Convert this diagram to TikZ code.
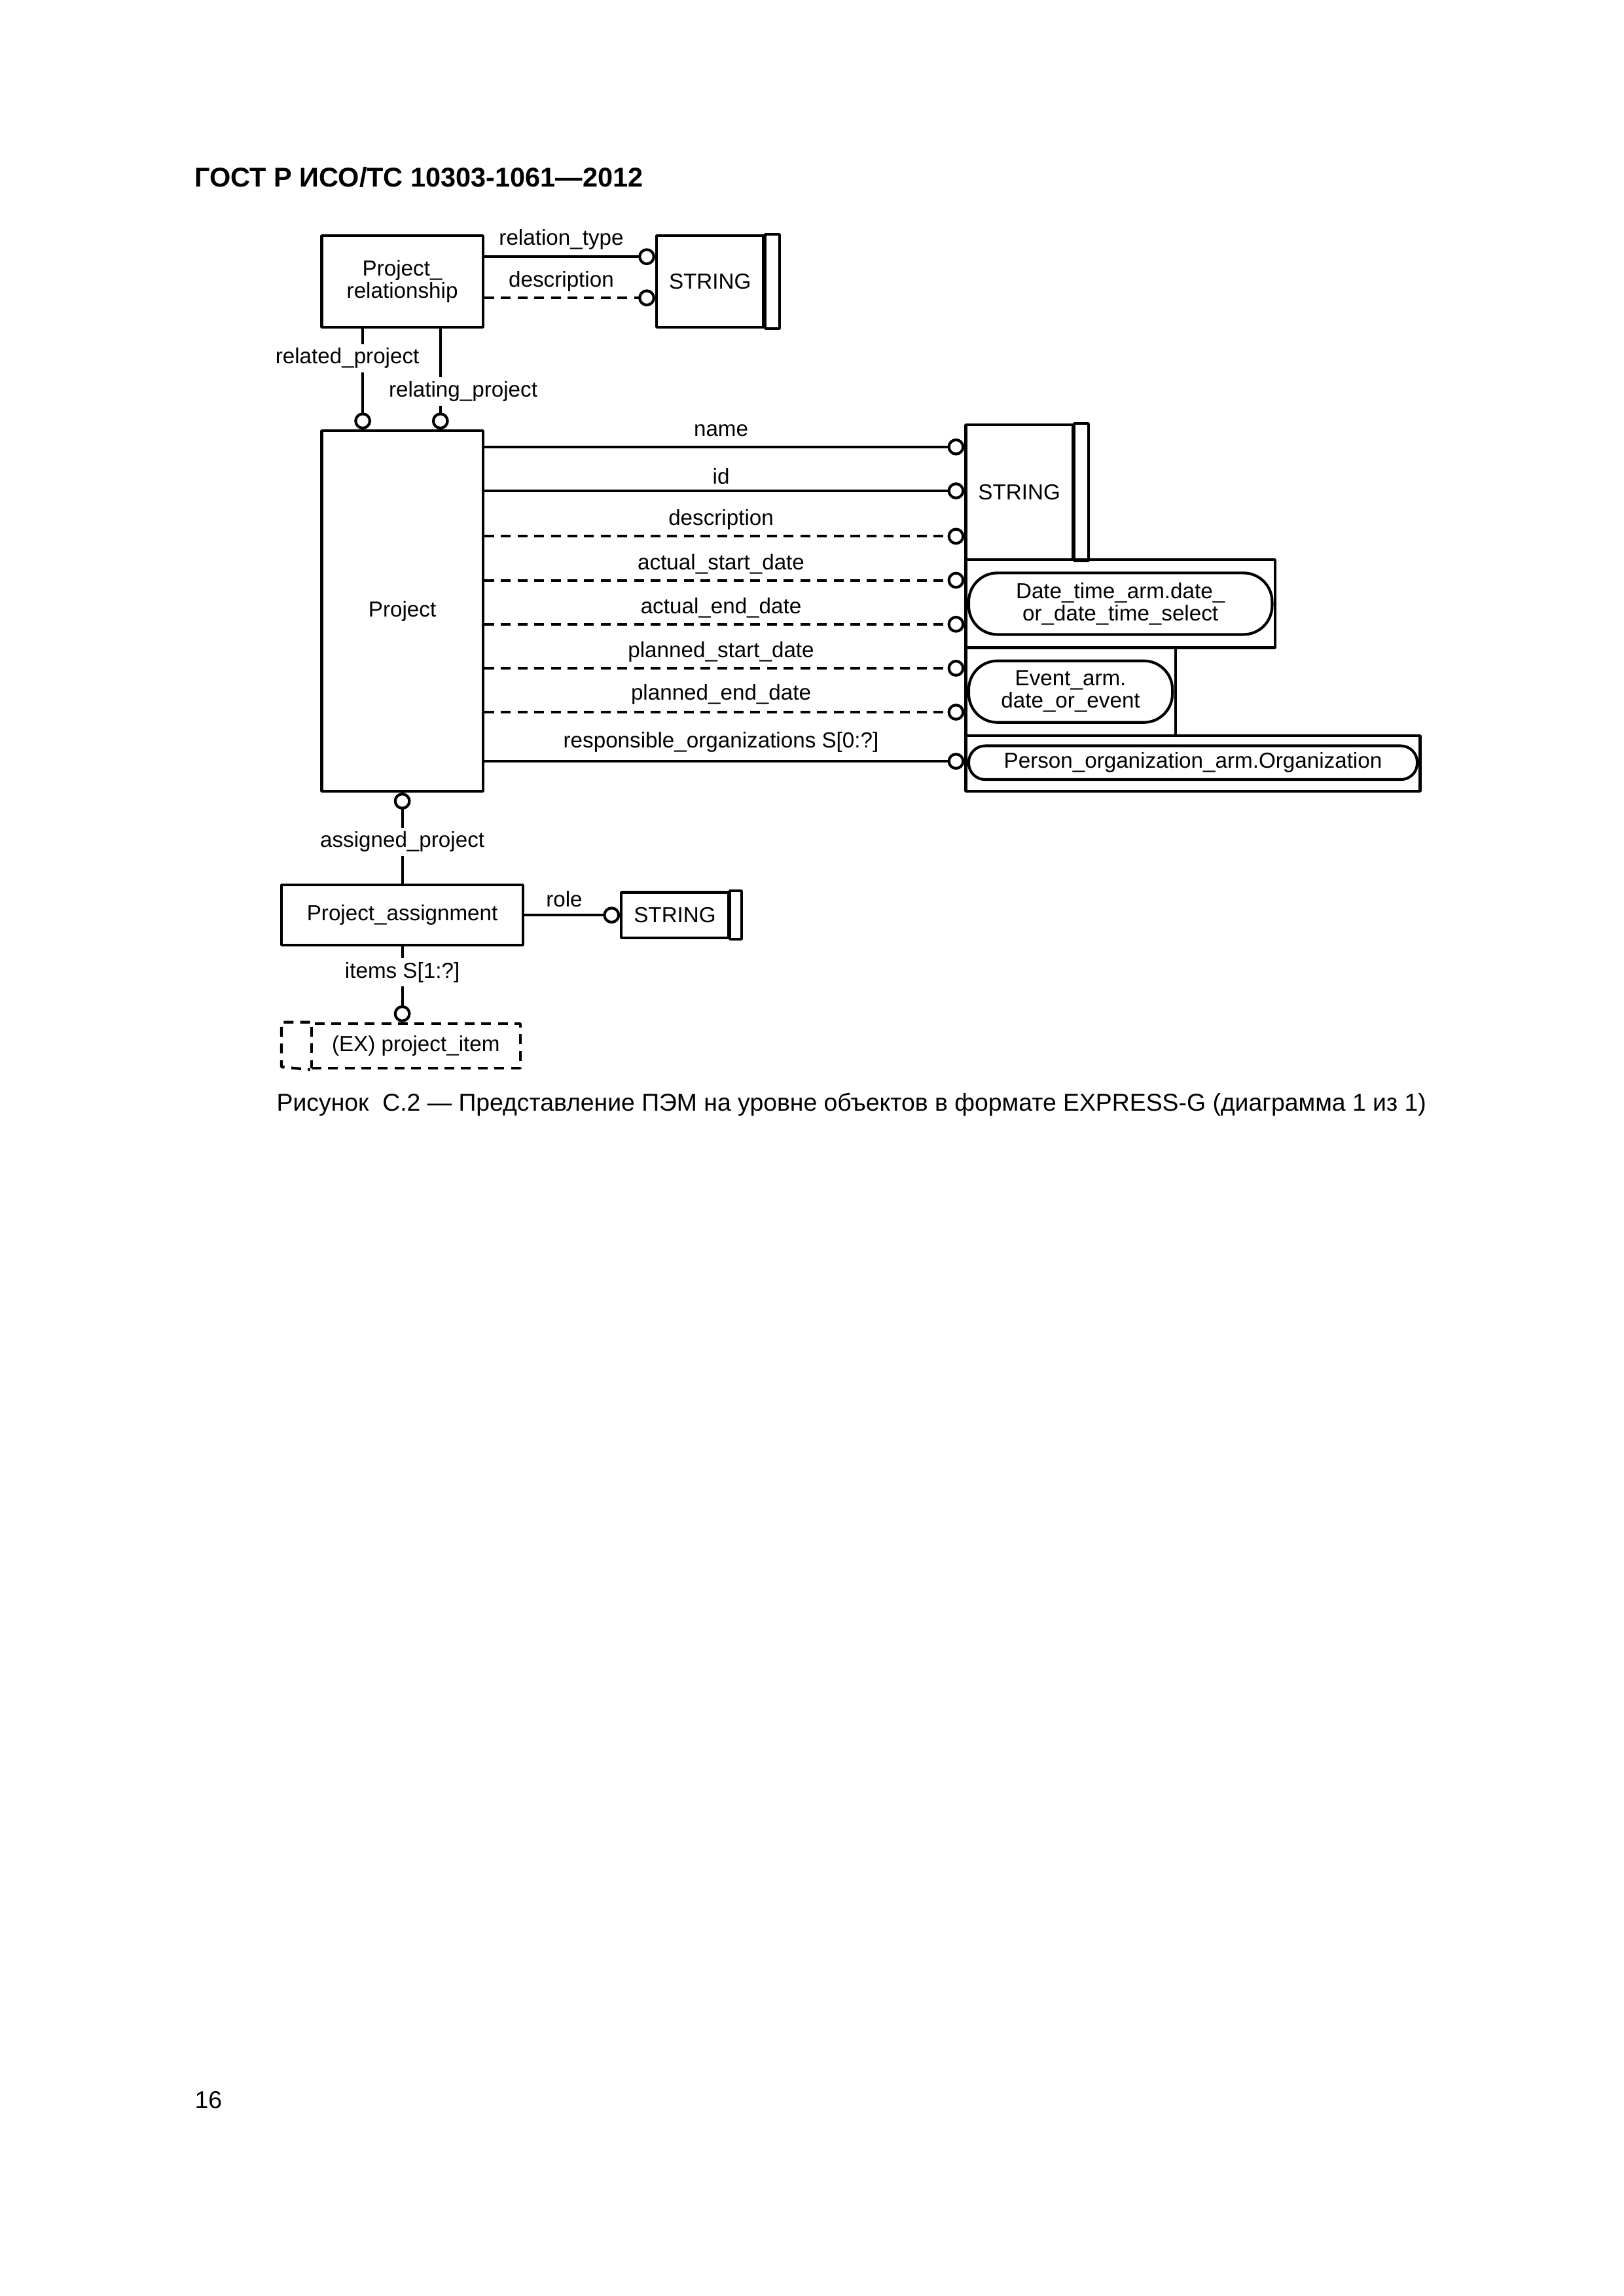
\documentclass[tikz,border=0pt]{standalone}
\usepackage{fontspec}
\setmainfont{Liberation Sans}
\usetikzlibrary{arrows.meta}
\begin{document}
\begin{tikzpicture}[>={Circle[open,length=6.2bp,width=6.2bp]},line join=bevel,line width=1bp,
  ent/.style={draw,inner sep=0pt,font=\fontsize{8}{8.2}\selectfont,align=center},
  sel/.style={draw,rounded corners=10.5bp,inner sep=0pt,font=\fontsize{8}{8.2}\selectfont,align=center},
  lbl/.style={inner sep=0pt,font=\fontsize{8}{8.2}\selectfont},
  cut/.style={lbl,fill=white,inner sep=1.5bp},
  opt/.style={dash pattern=on 3.6bp off 2.5bp},
]
%%
\begin{scope}
  \definecolor{fillcol}{rgb}{1.0,1.0,1.0}
  \pgfsetfillcolor{fillcol}
  \fill (0bp,0bp) -- (0bp,842bp) -- (595.28bp,842bp) -- (595.28bp,0bp) -- cycle;
\end{scope}
  \node (hdr) at (70.93bp,776.97bp) [anchor=west,inner sep=0pt,font=\bfseries\fontsize{10}{12}\selectfont] {ГОСТ Р ИСО/ТС 10303-1061—2012};
%
  \node (prel) at (147.52bp,738.82bp) [ent,minimum width=59.12bp,minimum height=33.64bp] {Project\_\\relationship};
  \node (str1) at (260.37bp,738.82bp) [ent,minimum width=39.23bp,minimum height=33.64bp] {STRING};
  \node (proj) at (147.52bp,617.91bp) [ent,minimum width=59.12bp,minimum height=132.20bp] {Project};
  \node (str2) at (373.76bp,661.43bp) [ent,minimum width=39.23bp,minimum height=49.44bp] {STRING};
  \node (dtbox) at (410.84bp,620.59bp) [ent,minimum width=113.39bp,minimum height=32.24bp] {};
  \node (dtsel) at (410.84bp,620.59bp) [sel,minimum width=111.24bp,minimum height=22.57bp] {Date\_time\_arm.date\_\\or\_date\_time\_select};
  \node (evbox) at (392.57bp,588.35bp) [ent,minimum width=76.85bp,minimum height=32.24bp] {};
  \node (evsel) at (392.57bp,588.35bp) [sel,minimum width=74.70bp,minimum height=22.57bp] {Event\_arm.\\date\_or\_event};
  \node (orgbox) at (437.44bp,562.02bp) [ent,minimum width=166.59bp,minimum height=20.42bp] {};
  \node (orgsel) at (437.44bp,562.29bp) [sel,rounded corners=6bp,minimum width=164.45bp,minimum height=12.36bp] {Person\_organization\_arm.Organization};
  \node (pasg) at (147.52bp,506.40bp) [ent,minimum width=88.67bp,minimum height=22.04bp] {Project\_assignment};
  \node (str3) at (247.47bp,506.40bp) [ent,minimum width=39.23bp,minimum height=16.66bp] {STRING};
  \node (item) at (152.48bp,458.43bp) [ent,opt,minimum width=76.58bp,minimum height=16.40bp] {(EX) project\_item};
%
  \draw (str1.north east) rectangle ([xshift=5.37bp]str1.south east);
  \draw (str2.north east) rectangle ([xshift=5.37bp]str2.south east);
  \draw (str3.north east) rectangle ([xshift=4.30bp]str3.south east);
  \draw [opt] (item.north west) -- ++(-10.48bp,0bp) -- ++(0bp,-16.40bp) -- (item.south west);
%
  \draw [->] (prel.east |- 0bp,747.85bp) -- (str1.west |- 0bp,747.85bp);
  \draw [->,opt] (prel.east |- 0bp,732.74bp) -- (str1.west |- 0bp,732.74bp);
  \draw [->] (prel.south -| 133.01bp,0bp) -- (proj.north -| 133.01bp,0bp);
  \draw [->] (prel.south -| 161.49bp,0bp) -- (proj.north -| 161.49bp,0bp);
  \draw [->] (proj.east |- 0bp,678.10bp) -- (str2.west |- 0bp,678.10bp);
  \draw [->] (proj.east |- 0bp,661.97bp) -- (str2.west |- 0bp,661.97bp);
  \draw [->,opt] (proj.east |- 0bp,645.32bp) -- (str2.west |- 0bp,645.32bp);
  \draw [->,opt] (proj.east |- 0bp,629.19bp) -- (dtbox.west |- 0bp,629.19bp);
  \draw [->,opt] (proj.east |- 0bp,613.07bp) -- (dtbox.west |- 0bp,613.07bp);
  \draw [->,opt] (proj.east |- 0bp,596.94bp) -- (evbox.west |- 0bp,596.94bp);
  \draw [->,opt] (proj.east |- 0bp,580.83bp) -- (evbox.west |- 0bp,580.83bp);
  \draw [->] (proj.east |- 0bp,562.82bp) -- (orgbox.west |- 0bp,562.82bp);
  \draw [->] (pasg) -- (proj);
  \draw [->] (pasg) -- (str3);
  \draw [->] (pasg.south) -- (pasg.south |- item.north);
%
  \node (lrtype) at (205.82bp,754.19bp) [lbl] {relation\_type};
  \node (lrdesc) at (205.82bp,738.71bp) [lbl] {description};
  \node (lrel) at (127.36bp,710.61bp) [cut] {related\_project};
  \node (lrelg) at (169.82bp,698.51bp) [cut] {relating\_project};
  \node (lname) at (264.40bp,684.01bp) [lbl] {name};
  \node (lid) at (264.40bp,667.34bp) [lbl] {id};
  \node (lpdesc) at (264.40bp,651.49bp) [lbl] {description};
  \node (lasd) at (264.40bp,635.10bp) [lbl] {actual\_start\_date};
  \node (laed) at (264.40bp,618.98bp) [lbl] {actual\_end\_date};
  \node (lpsd) at (264.40bp,602.85bp) [lbl] {planned\_start\_date};
  \node (lped) at (264.40bp,587.27bp) [lbl] {planned\_end\_date};
  \node (lresp) at (264.40bp,569.80bp) [lbl] {responsible\_organizations S[0:?]};
  \node (lasg) at (147.52bp,533.26bp) [cut] {assigned\_project};
  \node (lrole) at (206.90bp,512.31bp) [lbl] {role};
  \node (litems) at (147.52bp,485.44bp) [cut] {items S[1:?]};
%
  \node (cap) at (312.22bp,436.81bp) [inner sep=0pt,font=\fontsize{9}{11}\selectfont] {Рисунок \ С.2 — Представление ПЭМ на уровне объектов в формате EXPRESS-G (диаграмма 1 из 1)};
  \node (pgno) at (70.93bp,71.91bp) [anchor=west,inner sep=0pt,font=\fontsize{9}{11}\selectfont] {16};
%
\end{tikzpicture}
\end{document}
